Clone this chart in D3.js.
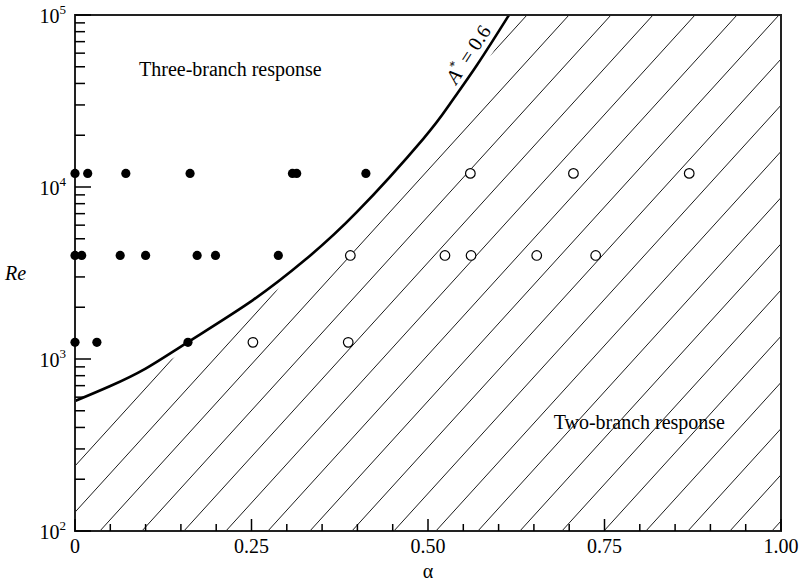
<!DOCTYPE html>
<html><head><meta charset="utf-8">
<script src="https://cdn.jsdelivr.net/npm/d3@7"></script>
<style>
html,body{margin:0;padding:0;background:#fff;}
</style></head>
<body><svg id="c" width="802" height="582"></svg>
<script>
// ---- data ----
const xTicksMajor = [0, 0.25, 0.5, 0.75, 1.0];
const xTickLabels = ["0", "0.25", "0.50", "0.75", "1.00"];
const yDecades = [100, 1000, 10000, 100000];
const yDecadeExp = ["2", "3", "4", "5"];

// boundary curve A* = 0.6
const curveAlpha = [0, 0.05, 0.10, 0.16, 0.252, 0.326, 0.3994, 0.493, 0.531, 0.5694, 0.6147, 0.6402];
const curveRe    = [570, 697, 880, 1255, 2200, 3770, 7160, 19000, 30400, 51200, 100000, 146700];

// three-branch (filled) points
const filledAlpha = [0, 0.018, 0.072, 0.163, 0.308, 0.314, 0.412,
                     0, 0.0095, 0.064, 0.100, 0.173, 0.199, 0.288,
                     0, 0.031, 0.160];
const filledRe    = [12000, 12000, 12000, 12000, 12000, 12000, 12000,
                     4000, 4000, 4000, 4000, 4000, 4000, 4000,
                     1250, 1250, 1250];
// two-branch (open) points
const openAlpha = [0.560, 0.706, 0.870,
                   0.390, 0.524, 0.561, 0.654, 0.7375,
                   0.252, 0.387];
const openRe    = [12000, 12000, 12000,
                   4000, 4000, 4000, 4000, 4000,
                   1250, 1250];

// ---- layout ----
const FONT = "'Liberation Serif', Tinos, 'DejaVu Serif', serif";
const L = 75, R = 781, T = 15, B = 531;
const svg = d3.select("#c");
const x = d3.scaleLinear().domain([0, 1]).range([L, R]);
const y = d3.scaleLog().domain([100, 100000]).range([B, T]);

const defs = svg.append("defs");
defs.append("clipPath").attr("id", "plotClip")
  .append("rect").attr("x", L).attr("y", T).attr("width", R - L).attr("height", B - T);

const cpts = curveAlpha.map((a, i) => [x(a), y(curveRe[i])]);
const lineGen = d3.line().curve(d3.curveNatural);
const curveD = lineGen(cpts);

// hatch clip: region right of / below the curve, with a small gap (hatching stops short near the left edge)
const hpts = cpts.map((p, i) => i === 0 ? [p[0] - 40, p[1] + 28] : i === 1 ? [p[0], p[1] + 9] : p);
const hatchD = d3.line().curve(d3.curveMonotoneX)(hpts);
const regionD = "M" + (L - 40) + "," + (B + 60) + "L" + hatchD.slice(1) +
  "L" + (R + 60) + "," + (T - 200) + "L" + (R + 60) + "," + (B + 60) + "Z";
defs.append("clipPath").attr("id", "hatchClip")
  .append("path").attr("d", regionD).attr("transform", "translate(5,4)");

// hatch lines
const hatchSpacing = 42, hatchSlope = 1.1, hatchStartTop = 527;
const hg = svg.append("g").attr("clip-path", "url(#plotClip)")
  .append("g").attr("clip-path", "url(#hatchClip)");
const hatchK = d3.range(-12, 19);
hg.selectAll("line").data(hatchK).join("line")
  .attr("x1", k => hatchStartTop + k * hatchSpacing).attr("y1", T)
  .attr("x2", k => hatchStartTop + k * hatchSpacing - (B - T) / hatchSlope).attr("y2", B)
  .attr("stroke", "#000").attr("stroke-width", 0.9);

// boundary curve
svg.append("g").attr("clip-path", "url(#plotClip)")
  .append("path").attr("d", curveD)
  .attr("fill", "none").attr("stroke", "#000").attr("stroke-width", 2.6);

// frame
svg.append("rect").attr("x", L).attr("y", T).attr("width", R - L).attr("height", B - T)
  .attr("fill", "none").attr("stroke", "#222").attr("stroke-width", 2);

// x ticks (inward)
const xMinor = d3.range(0, 1.0001, 0.05);
svg.append("g").selectAll("line").data(xMinor).join("line")
  .attr("x1", d => x(d)).attr("x2", d => x(d))
  .attr("y1", B).attr("y2", d => B - (Math.abs(d * 4 - Math.round(d * 4)) < 1e-6 ? 12 : 7))
  .attr("stroke", "#000").attr("stroke-width", 1.5);
svg.append("g").selectAll("text").data(xTicksMajor).join("text")
  .style("font-family", FONT)
  .attr("x", d => x(d)).attr("y", 553).attr("text-anchor", "middle")
  .attr("font-size", 20).text((d, i) => xTickLabels[i]);

// y ticks (inward)
const yMinor = [];
for (let e = 2; e < 5; e++) for (let m = 1; m < 10; m++) yMinor.push(m * Math.pow(10, e));
yMinor.push(100000);
svg.append("g").selectAll("line").data(yMinor).join("line")
  .attr("y1", d => y(d)).attr("y2", d => y(d))
  .attr("x1", L).attr("x2", d => L + (yDecades.includes(d) ? 16 : 10))
  .attr("stroke", "#000").attr("stroke-width", 1.5);
const yl = svg.append("g").selectAll("text").data(yDecades).join("text")
  .style("font-family", FONT)
  .attr("x", 66).attr("y", d => y(d) + 8).attr("text-anchor", "end").attr("font-size", 20);
yl.append("tspan").text("10");
yl.append("tspan").attr("font-size", 13).attr("dy", -9).text((d, i) => yDecadeExp[i]);

// points
svg.append("g").selectAll("circle").data(filledAlpha).join("circle")
  .attr("cx", d => x(d)).attr("cy", (d, i) => y(filledRe[i])).attr("r", 4.6)
  .attr("fill", "#000");
svg.append("g").selectAll("circle").data(openAlpha).join("circle")
  .attr("cx", d => x(d)).attr("cy", (d, i) => y(openRe[i])).attr("r", 4.8)
  .attr("fill", "#fff").attr("stroke", "#000").attr("stroke-width", 1.2);

// labels
const txt = (xx, yy) => svg.append("text").style("font-family", FONT).attr("x", xx).attr("y", yy).attr("font-size", 20);
txt(139, 76).text("Three-branch response");
txt(725, 429).attr("text-anchor", "end").text("Two-branch response");
txt(5, 280).attr("font-style", "italic").text("Re");
txt(x(0.5), 578).attr("text-anchor", "middle").text("α");

const lab = svg.append("text").style("font-family", FONT).attr("transform", "translate(474,58) rotate(-57)")
  .attr("text-anchor", "middle").attr("font-size", 20);
lab.append("tspan").attr("font-style", "italic").text("A");
lab.append("tspan").attr("font-size", 13).attr("dy", -9).text("*");
lab.append("tspan").attr("dy", 9).text(" = 0.6");
</script></body></html>
